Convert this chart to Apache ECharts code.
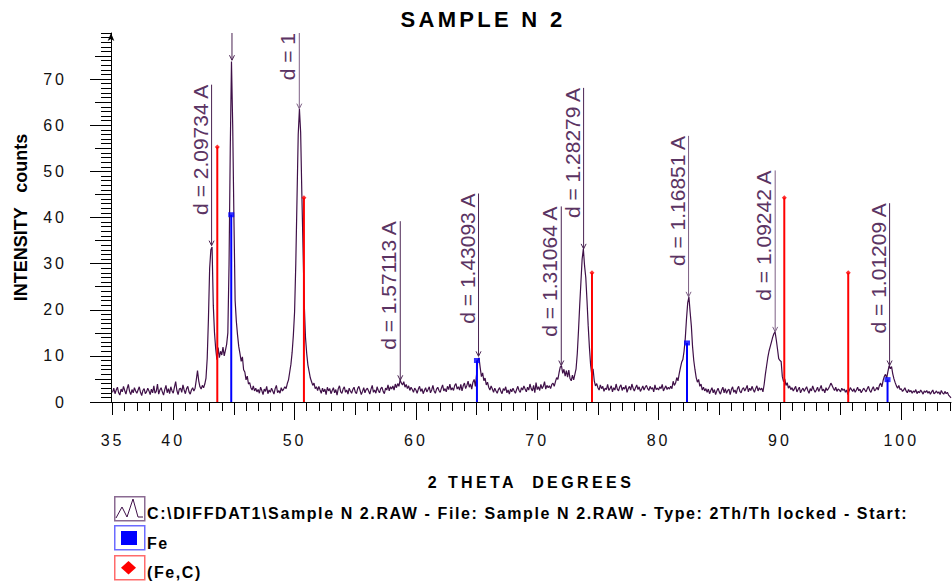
<!DOCTYPE html>
<html>
<head>
<meta charset="utf-8">
<script src="https://cdn.jsdelivr.net/npm/echarts@6/dist/echarts.min.js"></script>
<style>
  html, body { margin: 0; padding: 0; background: #fff; }
  #chart { width: 952px; height: 585px; }
</style>
</head>
<body>
<div id="chart"></div>
<script>
  // measured scan, 2theta from 35.0 in 0.1 degree steps, one row per degree
  const start2Theta = 35.0
  const step2Theta = 0.1
  const counts = [
    // 35
    2.1, 3.0, 1.8, 2.6, 3.2, 2.0, 1.5, 2.8, 2.2, 3.4,
    // 36
    2.5, 1.7, 2.9, 3.8, 2.3, 1.6, 2.7, 2.0, 3.1, 2.4,
    // 37
    1.9, 2.6, 3.3, 2.1, 1.4, 2.5, 2.9, 1.8, 2.2, 3.0,
    // 38
    2.4, 1.6, 2.8, 2.0, 3.5, 1.9, 2.3, 3.9, 1.7, 2.6,
    // 39
    3.1, 2.2, 1.5, 2.7, 3.6, 2.0, 2.9, 1.8, 3.3, 2.4,
    // 40
    1.9, 3.2, 4.4, 2.5, 1.6, 2.8, 3.0, 2.1, 3.7, 2.6,
    // 41
    1.8, 2.9, 3.4, 2.2, 1.7, 2.6, 3.1, 2.4, 3.0, 4.8,
    // 42
    6.8, 4.6, 3.3, 2.8, 3.6, 3.1, 3.9, 5.2, 9.5, 18.0,
    // 43
    29.0, 33.0, 33.6, 21.0, 15.0, 11.5, 9.2, 11.8, 9.6, 11.0,
    // 44
    10.2, 11.9, 10.0, 11.2, 12.5, 15.0, 30.0, 55.0, 73.8, 60.0,
    // 45
    40.0, 22.0, 17.5, 14.5, 12.0, 10.5, 8.8, 9.8, 7.0, 6.5,
    // 46
    4.8, 5.6, 3.9, 4.2, 3.1, 2.6, 3.5, 2.4, 3.0, 2.2,
    // 47
    2.7, 1.9, 3.2, 2.5, 1.6, 2.8, 2.3, 3.4, 1.8, 2.6,
    // 48
    2.1, 3.0, 2.4, 1.7, 2.9, 3.6, 2.0, 2.5, 1.9, 3.1,
    // 49
    2.4, 2.8, 3.3, 2.9, 4.0, 4.8, 6.5, 8.2, 10.8, 14.5,
    // 50
    19.5, 30.0, 44.0, 58.0, 63.5, 58.5, 45.0, 33.0, 21.0, 14.0,
    // 51
    10.5, 8.0, 6.6, 5.2, 4.4, 3.6, 4.1, 2.9, 3.3, 2.5,
    // 52
    3.4, 2.6, 1.9, 3.0, 2.2, 2.8, 1.6, 3.2, 2.4, 2.9,
    // 53
    1.8, 2.5, 3.1, 2.0, 2.7, 1.5, 2.9, 3.5, 2.2, 1.9,
    // 54
    2.8, 3.3, 2.1, 2.6, 1.7, 3.0, 2.4, 1.9, 2.7, 3.2,
    // 55
    2.2, 1.8, 2.9, 3.4, 2.5, 1.6, 2.3, 3.1, 2.0, 2.7,
    // 56
    3.0, 2.4, 1.7, 2.8, 3.6, 2.1, 2.6, 1.9, 3.3, 2.5,
    // 57
    2.0, 2.9, 3.2, 2.3, 1.8, 3.0, 2.6, 3.7, 2.4, 3.3,
    // 58
    2.8, 3.5, 2.6, 3.9, 3.1, 4.0, 3.4, 4.8, 4.1, 3.7,
    // 59
    4.4, 3.2, 3.8, 2.9, 3.5, 2.5, 3.2, 2.7, 2.1, 3.0,
    // 60
    2.6, 1.9, 2.8, 3.4, 2.3, 2.9, 1.8, 2.5, 3.1, 2.2,
    // 61
    2.7, 3.3, 2.0, 2.6, 3.6, 2.4, 1.9, 2.8, 3.2, 2.5,
    // 62
    2.1, 3.0, 3.7, 2.4, 2.9, 2.2, 3.4, 2.7, 3.9, 2.6,
    // 63
    3.1, 2.5, 3.6, 4.0, 2.8, 3.3, 2.6, 3.8, 2.4, 3.5,
    // 64
    4.1, 2.9, 3.6, 4.5, 3.2, 3.9, 2.8, 4.3, 4.9, 3.4,
    // 65
    6.0, 9.0, 9.6, 7.4, 5.5, 6.3, 4.6, 5.2, 3.7, 4.3,
    // 66
    3.2, 2.6, 3.5, 2.8, 2.1, 3.0, 2.4, 1.9, 2.7, 3.1,
    // 67
    2.3, 1.8, 2.9, 2.5, 3.3, 2.0, 2.6, 1.7, 2.8, 2.2,
    // 68
    3.0, 2.4, 1.9, 2.7, 3.4, 2.5, 2.1, 3.1, 2.6, 3.5,
    // 69
    2.8, 2.2, 3.2, 2.6, 3.9, 2.9, 2.4, 3.6, 2.0, 4.2,
    // 70
    2.7, 3.3, 2.5, 3.8, 2.9, 3.4, 4.4, 2.8, 3.6, 3.1,
    // 71
    3.5, 2.9, 3.8, 4.1, 3.4, 4.4, 5.3, 4.9, 6.4, 7.6,
    // 72
    7.8, 6.2, 7.1, 5.6, 6.8, 5.4, 6.9, 5.1, 4.6, 5.8,
    // 73
    4.8, 6.0, 7.2, 10.5, 15.5, 21.0, 26.0, 31.0, 33.2, 29.5,
    // 74
    27.0, 22.0, 16.5, 11.8, 8.0, 5.8, 7.2, 4.6, 3.5, 4.0,
    // 75
    3.1, 2.6, 3.7, 2.9, 3.4, 2.3, 3.0, 2.7, 3.8, 2.5,
    // 76
    2.9, 3.5, 2.2, 3.1, 2.6, 3.9, 2.8, 2.4, 3.3, 3.7,
    // 77
    2.5, 3.2, 2.8, 3.6, 2.1, 2.9, 3.4, 2.6, 3.9, 3.0,
    // 78
    2.4, 3.1, 3.7, 2.7, 3.3, 2.3, 2.8, 3.5, 2.6, 3.2,
    // 79
    3.6, 2.9, 2.5, 3.4, 2.8, 3.1, 2.2, 3.7, 2.7, 3.0,
    // 80
    2.6, 3.3, 2.9, 3.8, 2.4, 3.0, 3.5, 2.7, 3.2, 2.8,
    // 81
    3.4, 2.9, 4.5, 3.6, 4.1, 5.3, 4.6, 6.1, 7.4, 8.6,
    // 82
    9.2, 11.0, 13.8, 18.0, 21.5, 22.8, 19.5, 16.5, 12.0, 9.0,
    // 83
    7.0, 5.3, 4.3, 4.9, 3.4, 3.9, 2.6, 3.2, 2.4, 2.9,
    // 84
    2.1, 2.8, 1.8, 2.5, 3.1, 2.0, 2.7, 1.6, 2.4, 3.0,
    // 85
    2.2, 1.7, 2.6, 3.2, 2.0, 2.9, 1.9, 2.5, 2.8, 1.6,
    // 86
    2.7, 3.3, 2.1, 2.6, 1.8, 2.9, 3.4, 2.3, 2.0, 2.8,
    // 87
    3.1, 2.4, 2.9, 3.6, 2.2, 3.0, 2.5, 3.4, 2.7, 2.1,
    // 88
    2.9, 3.5, 2.4, 3.1, 2.6, 3.0, 2.2, 3.8, 6.0, 7.8,
    // 89
    9.6, 11.0, 12.0, 13.0, 14.0, 14.8, 15.2, 13.5, 11.5, 9.4,
    // 90
    9.0, 8.8, 5.5, 4.4, 5.0, 3.6, 4.2, 3.0, 3.5, 2.7,
    // 91
    3.1, 2.4, 2.9, 3.4, 2.2, 2.7, 3.2, 2.0, 2.6, 3.0,
    // 92
    2.3, 2.8, 3.3, 2.5, 1.9, 2.9, 2.4, 3.5, 2.7, 2.1,
    // 93
    2.6, 3.2, 2.3, 2.9, 3.6, 2.4, 2.8, 2.0, 3.1, 2.5,
    // 94
    2.9, 3.4, 4.1, 3.6, 3.0, 2.5, 3.2, 2.3, 2.8, 2.6,
    // 95
    2.2, 3.0, 2.5, 2.8, 2.1, 2.6, 1.6, 2.4, 3.1, 2.7,
    // 96
    2.3, 2.9, 2.1, 2.6, 3.2, 2.4, 2.8, 2.0, 2.5, 3.0,
    // 97
    2.6, 2.2, 2.9, 3.4, 2.5, 2.1, 2.8, 3.3, 2.4, 2.7,
    // 98
    3.2, 2.6, 3.6, 4.1, 3.3, 4.6, 5.5, 6.0, 5.2, 6.6,
    // 99
    7.9, 7.2, 7.7, 6.1, 5.0, 4.2, 3.5, 3.0, 3.6, 2.7,
    // 100
    2.9, 2.3, 2.6, 3.1, 2.4, 2.0, 2.7, 2.2, 2.5, 1.9,
    // 101
    2.4, 2.1, 2.7, 1.8, 2.3, 2.0, 2.6, 2.2, 1.7, 2.4,
    // 102
    2.1, 2.5, 1.9, 2.3, 1.7, 2.2, 2.6, 1.8, 2.0, 2.4,
    // 103
    1.9, 2.2, 1.6, 2.5, 2.0, 1.7, 2.3, 1.8, 2.1, 1.5,
    // 104
    1.2, 0.9
  ]

  // reference patterns (stick positions and heights)
  const fePos = [44.78, 65.03, 82.34, 98.87]
  const feHeight = [40.6, 9.0, 12.8, 4.85]
  const fecPos = [43.63, 50.77, 74.51, 90.36, 95.63]
  const fecHeight = [55.3, 44.3, 28.0, 44.3, 28.0]

  // peak markers: position, arrow tip, top of the marker line
  const peakLabels = ['d = 2.09734 A', '', 'd = 1', 'd = 1.57113 A', 'd = 1.43093 A',
    'd = 1.31064 A', 'd = 1.28279 A', 'd = 1.16851 A', 'd = 1.09242 A', 'd = 1.01209 A']
  const peakPos = [43.16, 44.84, 50.39, 58.71, 65.16, 71.98, 73.82, 82.47, 89.61, 99.04]
  const peakTip = [33.9, 74.1, 63.6, 4.7, 9.9, 7.9, 33.2, 22.8, 15.2, 7.9]
  const peakLineTop = [68.8, 80, 80, 39.2, 45.2, 42.4, 68.1, 57.7, 50.2, 43.1]

  // axis ticks
  const xTickLabels = [35, 40, 50, 60, 70, 80, 90, 100]
  const xMajorTicks = [40, 50, 60, 70, 80, 90, 100]
  const xMidTicks = [35, 45, 55, 65, 75, 85, 95]
  const xMinorTicks = []
  for (let v = 35; v <= 104; v++) xMinorTicks.push(v)
  const yMajorTicks = [0, 10, 20, 30, 40, 50, 60, 70]
  const yMidTicks = [5, 15, 25, 35, 45, 55, 65, 75]

  const titleText = 'SAMPLE N 2'
  const xName = '2 THETA  DEGREES'
  const yName = 'INTENSITY   counts'
  const scanName = 'C:\\DIFFDAT1\\Sample N 2.RAW - File: Sample N 2.RAW - Type: 2Th/Th locked - Start:'
  const feName = 'Fe'
  const fecName = '(Fe,C)'

  const font = 'Arial, "Liberation Sans", sans-serif'
  const scanColor = '#3f1048'
  const markColor = '#4a2352'
  const markLight = '#7d6085'
  const lightMarks = [2, 7, 8]

  const spectrum = counts.map((c, i) => [+(start2Theta + i * step2Theta).toFixed(2), c])
  const feData = fePos.map((x, i) => [x, feHeight[i]])
  const fecData = fecPos.map((x, i) => [x, fecHeight[i]])
  const peakData = peakPos.map((x, i) => [x, peakTip[i], peakLineTop[i]])

  const chart = echarts.init(document.getElementById('chart'), null, {renderer: 'svg'})

  const axisLine = {lineStyle: {color: '#000', width: 1}}
  const tickStyle = {color: '#000', width: 1}

  function xAxisBase() {
    return {
      type: 'value', min: 34.87, max: 104.1, position: 'bottom',
      axisLine: {show: false}, splitLine: {show: false}, axisLabel: {show: false}
    }
  }
  function yAxisBase() {
    return {
      type: 'value', min: 0, max: 80, position: 'left',
      axisLine: {show: false}, splitLine: {show: false}, axisLabel: {show: false}
    }
  }

  const option = {
    animation: false,
    textStyle: {fontFamily: font},
    title: {
      text: titleText, left: 478, top: 3, textAlign: 'center',
      textStyle: {fontSize: 22, fontWeight: 'bold', color: '#000', fontFamily: font}
    },
    grid: {left: 111, right: 1, top: 33, bottom: 183, containLabel: false, outerBoundsMode: 'none'},
    xAxis: [
      Object.assign(xAxisBase(), {
        axisLine: Object.assign({show: true}, axisLine),
        axisTick: {show: true, length: 18, customValues: xMajorTicks, lineStyle: tickStyle},
        axisLabel: {show: true, customValues: xTickLabels, margin: 30, fontSize: 16, color: '#111'},
        name: xName, nameLocation: 'middle', nameGap: 72, nameMoveOverlap: false,
        nameTextStyle: {fontSize: 16, fontWeight: 'bold', color: '#000'}
      }),
      Object.assign(xAxisBase(), {
        axisTick: {show: true, length: 13, customValues: xMidTicks, lineStyle: tickStyle}
      }),
      Object.assign(xAxisBase(), {
        axisTick: {show: true, length: 9, customValues: xMinorTicks, lineStyle: tickStyle}
      })
    ],
    yAxis: [
      Object.assign(yAxisBase(), {
        axisLine: Object.assign({show: true, symbol: ['none', 'arrow'], symbolSize: [5, 8]}, axisLine),
        axisTick: {show: true, length: 21, customValues: yMajorTicks, lineStyle: tickStyle},
        name: yName, nameLocation: 'middle', nameGap: 81, nameRotate: 90, nameMoveOverlap: false,
        nameTextStyle: {fontSize: 18, fontWeight: 'bold', color: '#000'}
      }),
      Object.assign(yAxisBase(), {
        axisTick: {show: true, length: 16, customValues: yMidTicks, lineStyle: tickStyle}
      }),
      Object.assign(yAxisBase(), {
        interval: 1,
        axisTick: {show: true, length: 10, lineStyle: tickStyle}
      }),
      // tick labels on their own offset axis, no line or ticks
      Object.assign(yAxisBase(), {
        interval: 10, offset: 36,
        axisTick: {show: false},
        axisLabel: {show: true, showMaxLabel: false, margin: 8, fontSize: 16, color: '#111'}
      })
    ],
    series: [
      {
        name: scanName, type: 'line', data: spectrum, showSymbol: false, z: 2,
        lineStyle: {color: scanColor, width: 1.2}, silent: true
      },
      {
        name: feName, type: 'bar', data: feData, barWidth: 2, barGap: '-100%', z: 3,
        itemStyle: {color: '#0000ff'}, silent: true
      },
      {
        name: fecName, type: 'bar', data: fecData, barWidth: 2, barGap: '-100%', z: 3,
        itemStyle: {color: '#ff0000'}, silent: true
      },
      {
        type: 'scatter', data: feData, symbol: 'rect', symbolSize: [6, 5], z: 4,
        itemStyle: {color: '#0000ff'}, silent: true
      },
      {
        type: 'scatter', data: fecData, symbol: 'diamond', symbolSize: [5, 5], z: 4,
        itemStyle: {color: '#ff0000'}, silent: true
      },
      {
        type: 'custom', data: peakData, z: 5, clip: false, silent: true,
        renderItem(params, api) {
          const i = params.dataIndex
          const top = api.coord([api.value(0), api.value(2)])
          const tip = api.coord([api.value(0), api.value(1)])
          const col = lightMarks.indexOf(i) >= 0 ? markLight : markColor
          const children = [
            {type: 'line', shape: {x1: top[0], y1: top[1], x2: tip[0], y2: tip[1]},
              style: {stroke: col, lineWidth: 1}},
            {type: 'polyline', shape: {points: [[tip[0] - 2.5, tip[1] - 5], [tip[0], tip[1]], [tip[0] + 2.5, tip[1] - 5]]},
              style: {stroke: col, lineWidth: 1, fill: null}}
          ]
          if (peakLabels[i]) {
            children.push({
              type: 'text', x: top[0] - 1, y: top[1], rotation: Math.PI / 2,
              style: {text: peakLabels[i], font: '21px ' + font, fill: '#5b3463',
                align: 'right', verticalAlign: 'bottom'}
            })
          }
          return {type: 'group', children}
        }
      }
    ],
    graphic: [
      // legend swatches
      {type: 'rect', left: 114, top: 496, shape: {width: 30, height: 24},
        style: {fill: '#fff', stroke: '#8a6a92', lineWidth: 1.5}, silent: true},
      {type: 'polyline', x: 114, y: 496,
        shape: {points: [[2, 22], [8, 11], [13, 21], [19, 3], [24, 21], [29, 21]]},
        style: {stroke: scanColor, lineWidth: 1, fill: null}, silent: true},
      {type: 'rect', left: 114, top: 525, shape: {width: 30, height: 24},
        style: {fill: '#fff', stroke: '#6b6bff', lineWidth: 1.5}, silent: true},
      {type: 'rect', x: 121, y: 531, shape: {width: 16, height: 14},
        style: {fill: '#0000ff'}, silent: true},
      {type: 'rect', left: 114, top: 555, shape: {width: 30, height: 24},
        style: {fill: '#fff', stroke: '#ff6b6b', lineWidth: 1.5}, silent: true},
      {type: 'polygon', shape: {points: [[128.5, 561], [136, 567.7], [128.5, 574.4], [121, 567.7]]},
        style: {fill: '#ff0000'}, silent: true},
      {type: 'text', x: 147, y: 513.5,
        style: {text: scanName, font: 'bold 16px ' + font, fill: '#000', verticalAlign: 'middle'}, silent: true},
      {type: 'text', x: 147, y: 543,
        style: {text: feName, font: 'bold 16px ' + font, fill: '#000', verticalAlign: 'middle'}, silent: true},
      {type: 'text', x: 147, y: 572.5,
        style: {text: fecName, font: 'bold 16px ' + font, fill: '#000', verticalAlign: 'middle'}, silent: true}
    ]
  }

  chart.setOption(option)

  // the original plot uses wide character spacing on titles and legend
  function spaceLetters() {
    document.querySelectorAll('#chart svg text').forEach(t => {
      const s = t.textContent
      let ls = 0
      if (s === titleText) ls = 3.3
      else if (s === xName) ls = 3.4
      else if (s === scanName || s === feName || s === fecName) ls = 1.6
      else if (/^\d+$/.test(s)) ls = 3
      if (ls) t.setAttribute('letter-spacing', ls)
    })
  }
  spaceLetters()
  chart.on('finished', spaceLetters)
</script>
</body>
</html>
